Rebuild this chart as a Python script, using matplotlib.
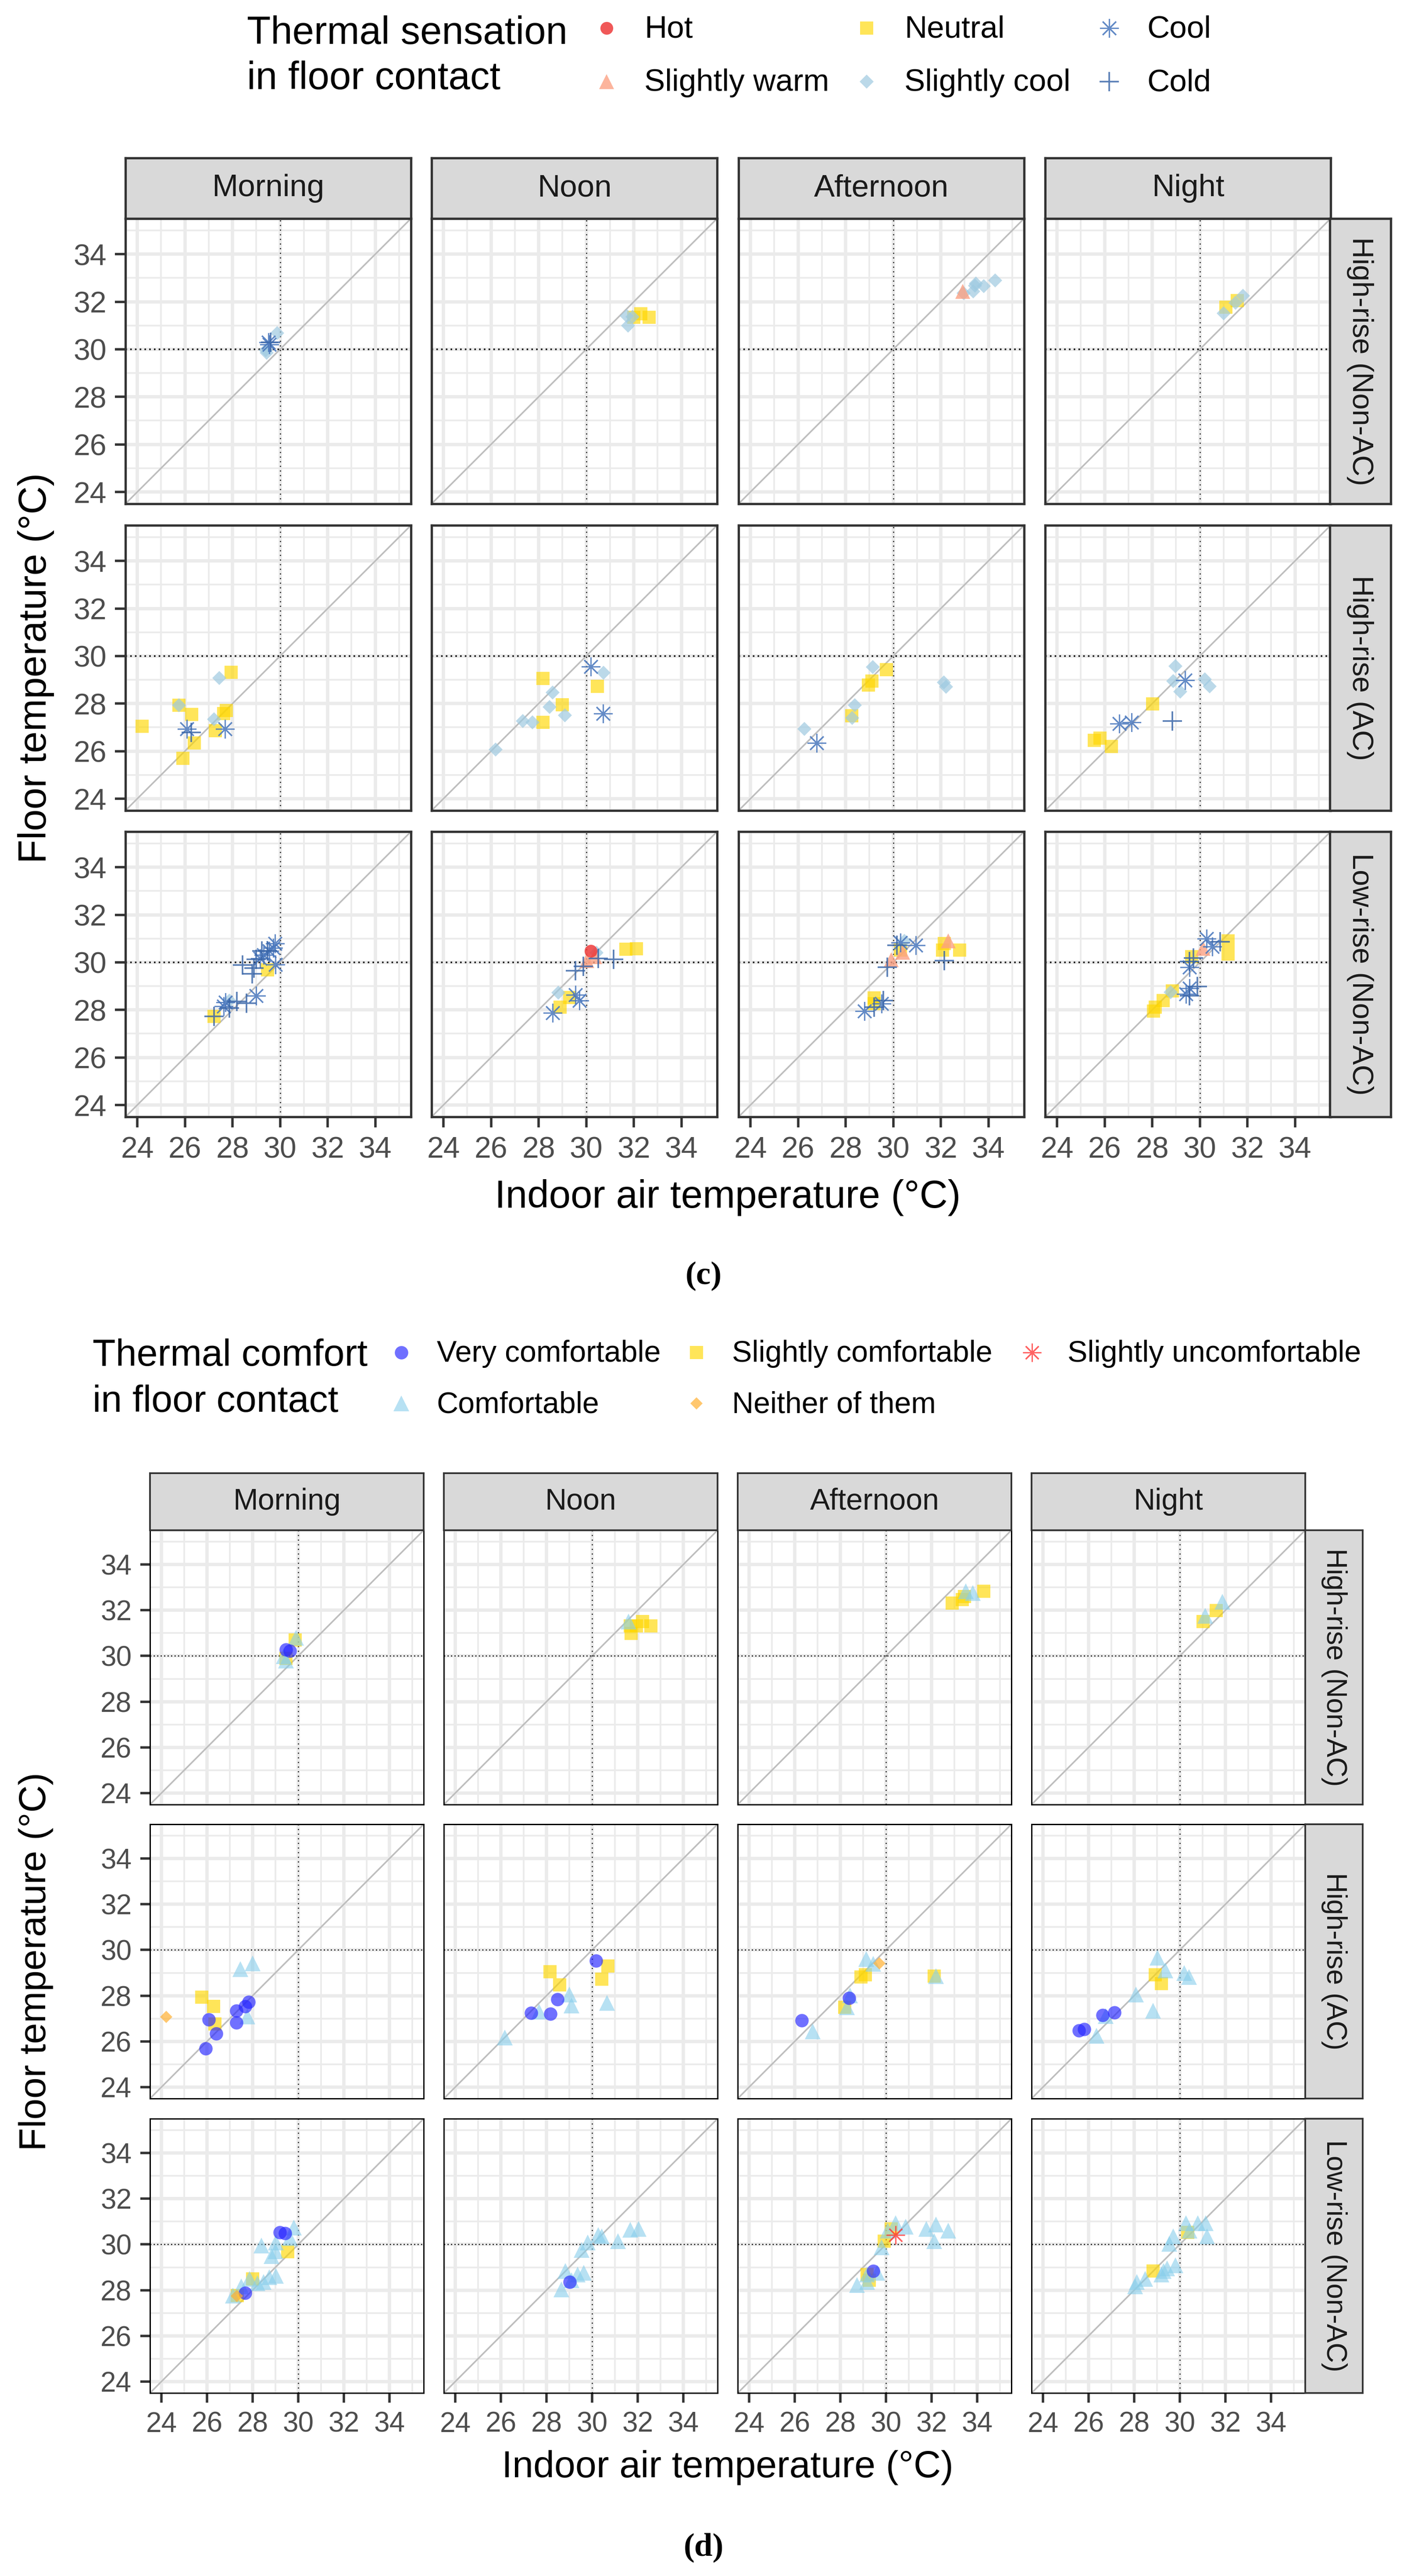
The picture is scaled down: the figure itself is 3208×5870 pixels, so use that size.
import matplotlib
matplotlib.use("Agg")
import matplotlib.pyplot as plt
from matplotlib.lines import Line2D

plt.rcParams['font.family'] = ['Liberation Sans', 'DejaVu Sans']

W, H = 3208, 5870

PERIODS = ['Morning', 'Noon', 'Afternoon', 'Night']
BUILDINGS = ['High-rise (Non-AC)', 'High-rise (AC)', 'Low-rise (Non-AC)']
TICKS = [24, 26, 28, 30, 32, 34]

# ---- (c) thermal sensation votes: (period, indoor air temp, floor temp, vote)
SENS_NAMES = {'H': 'Hot', 'SW': 'Slightly warm', 'N': 'Neutral',
              'SC': 'Slightly cool', 'C': 'Cool', 'CD': 'Cold'}

sens_high_nonac = [
    ('Morning', 29.87, 30.68, 'SC'), ('Morning', 29.44, 29.85, 'SC'), ('Morning', 29.40, 29.96, 'SC'),
    ('Morning', 29.50, 30.30, 'C'), ('Morning', 29.55, 30.20, 'C'), ('Morning', 29.60, 30.30, 'CD'),
    ('Noon', 31.71, 31.40, 'SC'), ('Noon', 31.76, 31.00, 'SC'), ('Noon', 31.95, 31.36, 'SC'),
    ('Noon', 32.30, 31.50, 'N'), ('Noon', 32.65, 31.35, 'N'), ('Noon', 32.00, 31.35, 'N'),
    ('Afternoon', 32.92, 32.44, 'SW'), ('Afternoon', 32.95, 32.36, 'SC'), ('Afternoon', 33.44, 32.68, 'SC'),
    ('Afternoon', 33.36, 32.44, 'SC'), ('Afternoon', 33.80, 32.65, 'SC'), ('Afternoon', 34.29, 32.89, 'SC'),
    ('Afternoon', 33.48, 32.76, 'SC'),
    ('Night', 31.10, 31.77, 'N'), ('Night', 31.58, 32.04, 'N'), ('Night', 31.00, 31.52, 'SC'),
    ('Night', 31.82, 32.25, 'SC'), ('Night', 31.50, 31.96, 'SC'),
]

sens_high_ac = [
    ('Morning', 24.20, 27.05, 'N'), ('Morning', 25.74, 27.93, 'N'), ('Morning', 25.74, 27.93, 'SC'),
    ('Morning', 26.28, 27.55, 'N'), ('Morning', 26.08, 26.94, 'C'), ('Morning', 26.27, 26.78, 'CD'),
    ('Morning', 26.40, 26.35, 'N'), ('Morning', 25.92, 25.69, 'N'), ('Morning', 27.44, 29.08, 'SC'),
    ('Morning', 27.95, 29.32, 'N'), ('Morning', 27.23, 27.34, 'SC'), ('Morning', 27.74, 27.71, 'N'),
    ('Morning', 27.63, 27.58, 'N'), ('Morning', 27.28, 26.86, 'N'), ('Morning', 27.68, 26.94, 'C'),
    ('Noon', 26.19, 26.06, 'SC'), ('Noon', 27.34, 27.26, 'SC'), ('Noon', 27.74, 27.21, 'SC'),
    ('Noon', 28.19, 27.21, 'N'), ('Noon', 28.19, 29.05, 'N'), ('Noon', 28.59, 28.46, 'SC'),
    ('Noon', 28.46, 27.85, 'SC'), ('Noon', 28.99, 27.95, 'N'), ('Noon', 29.10, 27.50, 'SC'),
    ('Noon', 30.19, 29.56, 'C'), ('Noon', 30.72, 29.29, 'SC'), ('Noon', 30.46, 28.73, 'N'),
    ('Noon', 30.70, 27.58, 'C'),
    ('Afternoon', 26.27, 26.94, 'SC'), ('Afternoon', 26.79, 26.35, 'C'), ('Afternoon', 28.39, 27.93, 'SC'),
    ('Afternoon', 28.26, 27.48, 'N'), ('Afternoon', 28.28, 27.39, 'SC'), ('Afternoon', 28.95, 28.78, 'N'),
    ('Afternoon', 29.11, 28.94, 'N'), ('Afternoon', 29.14, 29.53, 'SC'), ('Afternoon', 29.72, 29.42, 'N'),
    ('Afternoon', 32.12, 28.89, 'SC'), ('Afternoon', 32.22, 28.70, 'SC'),
    ('Night', 25.57, 26.46, 'N'), ('Night', 25.81, 26.54, 'N'), ('Night', 26.29, 26.19, 'N'),
    ('Night', 26.61, 27.15, 'C'), ('Night', 27.14, 27.21, 'C'), ('Night', 28.02, 27.98, 'N'),
    ('Night', 28.85, 27.26, 'CD'), ('Night', 28.98, 29.58, 'SC'), ('Night', 28.88, 28.94, 'SC'),
    ('Night', 29.17, 28.51, 'SC'), ('Night', 29.38, 28.99, 'C'), ('Night', 30.21, 29.02, 'SC'),
    ('Night', 30.41, 28.73, 'SC'),
]

sens_low_nonac = [
    ('Morning', 29.55, 30.48, 'C'), ('Morning', 29.71, 30.60, 'C'), ('Morning', 29.31, 30.32, 'C'),
    ('Morning', 29.79, 30.80, 'C'), ('Morning', 29.15, 30.16, 'C'), ('Morning', 27.70, 28.32, 'C'),
    ('Morning', 28.99, 28.60, 'C'), ('Morning', 27.63, 28.16, 'C'), ('Morning', 29.80, 29.90, 'C'),
    ('Morning', 29.23, 30.48, 'CD'), ('Morning', 28.83, 29.52, 'CD'), ('Morning', 28.43, 29.88, 'CD'),
    ('Morning', 29.00, 30.12, 'CD'), ('Morning', 29.47, 30.48, 'CD'), ('Morning', 28.19, 28.36, 'CD'),
    ('Morning', 28.59, 28.28, 'CD'), ('Morning', 27.87, 28.08, 'CD'), ('Morning', 27.23, 27.72, 'CD'),
    ('Morning', 28.90, 29.75, 'CD'), ('Morning', 29.47, 29.68, 'N'), ('Morning', 27.23, 27.72, 'N'),
    ('Morning', 27.87, 28.40, 'SC'),
    ('Noon', 30.19, 30.48, 'H'), ('Noon', 30.03, 30.08, 'SW'), ('Noon', 30.35, 30.24, 'SW'),
    ('Noon', 30.43, 30.40, 'SC'), ('Noon', 28.83, 28.72, 'SC'), ('Noon', 31.15, 30.12, 'CD'),
    ('Noon', 30.51, 30.16, 'CD'), ('Noon', 29.55, 29.64, 'CD'), ('Noon', 29.87, 29.84, 'CD'),
    ('Noon', 31.66, 30.56, 'N'), ('Noon', 32.10, 30.58, 'N'), ('Noon', 29.31, 28.52, 'N'),
    ('Noon', 28.91, 28.12, 'N'), ('Noon', 29.55, 28.64, 'C'), ('Noon', 28.59, 27.88, 'C'),
    ('Noon', 29.71, 28.40, 'C'),
    ('Afternoon', 29.91, 30.11, 'SW'), ('Afternoon', 30.39, 30.43, 'SW'), ('Afternoon', 32.31, 30.91, 'SW'),
    ('Afternoon', 30.47, 30.91, 'SC'), ('Afternoon', 30.95, 30.71, 'C'), ('Afternoon', 30.31, 30.83, 'C'),
    ('Afternoon', 28.79, 27.95, 'C'), ('Afternoon', 29.51, 28.27, 'C'), ('Afternoon', 30.31, 30.51, 'N'),
    ('Afternoon', 32.07, 30.51, 'N'), ('Afternoon', 32.79, 30.51, 'N'), ('Afternoon', 32.15, 30.79, 'N'),
    ('Afternoon', 29.19, 28.51, 'N'), ('Afternoon', 29.19, 28.27, 'N'), ('Afternoon', 32.15, 30.07, 'CD'),
    ('Afternoon', 29.75, 29.79, 'CD'), ('Afternoon', 30.15, 30.71, 'CD'), ('Afternoon', 29.59, 28.39, 'CD'),
    ('Afternoon', 29.19, 28.11, 'CD'),
    ('Night', 30.29, 30.99, 'C'), ('Night', 30.53, 30.67, 'C'), ('Night', 29.57, 29.79, 'C'),
    ('Night', 29.57, 28.91, 'C'), ('Night', 29.41, 28.67, 'C'), ('Night', 31.18, 30.91, 'N'),
    ('Night', 31.18, 30.35, 'N'), ('Night', 29.65, 30.24, 'N'), ('Night', 28.85, 28.79, 'N'),
    ('Night', 28.45, 28.39, 'N'), ('Night', 28.13, 28.11, 'N'), ('Night', 28.05, 27.95, 'N'),
    ('Night', 30.13, 30.59, 'SW'), ('Night', 28.77, 28.75, 'SC'), ('Night', 30.85, 30.87, 'CD'),
    ('Night', 29.57, 30.03, 'CD'), ('Night', 29.89, 28.99, 'CD'), ('Night', 29.73, 30.19, 'CD'),
    ('Night', 29.57, 28.59, 'CD'),
]

# ---- (d) thermal comfort votes
COMF_NAMES = {'VC': 'Very comfortable', 'CF': 'Comfortable', 'SLC': 'Slightly comfortable',
              'NE': 'Neither of them', 'SU': 'Slightly uncomfortable'}

comf_high_nonac = [
    ('Morning', 29.46, 30.28, 'VC'), ('Morning', 29.63, 30.22, 'VC'), ('Morning', 29.86, 30.70, 'SLC'),
    ('Morning', 29.46, 29.90, 'SLC'), ('Morning', 29.90, 30.79, 'CF'), ('Morning', 29.46, 29.80, 'CF'),
    ('Morning', 29.37, 29.99, 'CF'),
    ('Noon', 31.68, 31.32, 'SLC'), ('Noon', 32.21, 31.51, 'SLC'), ('Noon', 32.57, 31.32, 'SLC'),
    ('Noon', 31.71, 30.98, 'SLC'), ('Noon', 31.94, 31.32, 'SLC'), ('Noon', 31.59, 31.51, 'CF'),
    ('Afternoon', 32.90, 32.31, 'SLC'), ('Afternoon', 33.35, 32.46, 'SLC'), ('Afternoon', 33.44, 32.60, 'SLC'),
    ('Afternoon', 34.28, 32.84, 'SLC'), ('Afternoon', 33.50, 32.84, 'CF'), ('Afternoon', 33.80, 32.75, 'CF'),
    ('Night', 31.02, 31.51, 'SLC'), ('Night', 31.59, 31.99, 'SLC'), ('Night', 31.11, 31.76, 'CF'),
    ('Night', 31.86, 32.37, 'CF'),
]

comf_high_ac = [
    ('Morning', 24.21, 27.07, 'NE'), ('Morning', 25.76, 27.94, 'SLC'), ('Morning', 26.29, 27.54, 'SLC'),
    ('Morning', 26.34, 26.77, 'SLC'), ('Morning', 26.08, 26.96, 'VC'), ('Morning', 26.40, 26.35, 'VC'),
    ('Morning', 25.94, 25.68, 'VC'), ('Morning', 27.29, 27.34, 'VC'), ('Morning', 27.29, 26.82, 'VC'),
    ('Morning', 27.68, 27.53, 'VC'), ('Morning', 27.82, 27.72, 'VC'), ('Morning', 27.46, 29.16, 'CF'),
    ('Morning', 28.00, 29.42, 'CF'), ('Morning', 27.77, 27.10, 'CF'),
    ('Noon', 26.17, 26.16, 'CF'), ('Noon', 27.68, 27.30, 'CF'), ('Noon', 29.00, 28.06, 'CF'),
    ('Noon', 29.10, 27.58, 'CF'), ('Noon', 30.65, 27.68, 'CF'), ('Noon', 27.32, 27.24, 'VC'),
    ('Noon', 28.18, 27.20, 'VC'), ('Noon', 28.48, 27.83, 'VC'), ('Noon', 30.17, 29.52, 'VC'),
    ('Noon', 28.16, 29.04, 'SLC'), ('Noon', 28.57, 28.47, 'SLC'), ('Noon', 30.70, 29.29, 'SLC'),
    ('Noon', 30.43, 28.72, 'SLC'),
    ('Afternoon', 26.30, 26.92, 'VC'), ('Afternoon', 28.38, 27.90, 'VC'), ('Afternoon', 26.78, 26.44, 'CF'),
    ('Afternoon', 28.43, 28.02, 'CF'), ('Afternoon', 28.29, 27.49, 'CF'), ('Afternoon', 29.13, 29.61, 'CF'),
    ('Afternoon', 29.45, 29.39, 'CF'), ('Afternoon', 32.20, 28.85, 'CF'), ('Afternoon', 28.20, 27.49, 'SLC'),
    ('Afternoon', 28.91, 28.82, 'SLC'), ('Afternoon', 29.09, 28.91, 'SLC'), ('Afternoon', 32.11, 28.85, 'SLC'),
    ('Afternoon', 29.71, 29.42, 'NE'),
    ('Night', 25.58, 26.48, 'VC'), ('Night', 25.81, 26.54, 'VC'), ('Night', 26.61, 27.15, 'VC'),
    ('Night', 27.14, 27.26, 'VC'), ('Night', 26.34, 26.25, 'CF'), ('Night', 26.75, 27.11, 'CF'),
    ('Night', 28.07, 28.06, 'CF'), ('Night', 29.01, 29.67, 'CF'), ('Night', 29.37, 29.10, 'CF'),
    ('Night', 28.83, 27.34, 'CF'), ('Night', 30.20, 29.00, 'CF'), ('Night', 30.40, 28.82, 'CF'),
    ('Night', 28.92, 28.91, 'SLC'), ('Night', 29.19, 28.53, 'SLC'),
]

comf_low_nonac = [
    ('Morning', 29.19, 30.52, 'VC'), ('Morning', 29.42, 30.48, 'VC'), ('Morning', 27.68, 27.87, 'VC'),
    ('Morning', 29.81, 30.74, 'CF'), ('Morning', 28.39, 29.95, 'CF'), ('Morning', 29.01, 30.08, 'CF'),
    ('Morning', 28.83, 29.49, 'CF'), ('Morning', 29.63, 30.28, 'CF'), ('Morning', 27.86, 28.50, 'CF'),
    ('Morning', 29.01, 28.63, 'CF'), ('Morning', 28.48, 28.36, 'CF'), ('Morning', 27.50, 28.17, 'CF'),
    ('Morning', 27.14, 27.77, 'CF'), ('Morning', 28.21, 28.30, 'CF'), ('Morning', 28.74, 28.56, 'CF'),
    ('Morning', 29.00, 29.70, 'CF'), ('Morning', 29.54, 29.69, 'SLC'), ('Morning', 27.32, 27.77, 'SLC'),
    ('Morning', 28.00, 28.50, 'SLC'), ('Morning', 27.30, 27.75, 'NE'),
    ('Noon', 30.26, 30.41, 'CF'), ('Noon', 30.43, 30.35, 'CF'), ('Noon', 29.81, 30.08, 'CF'),
    ('Noon', 29.54, 29.75, 'CF'), ('Noon', 31.14, 30.15, 'CF'), ('Noon', 31.68, 30.65, 'CF'),
    ('Noon', 32.03, 30.68, 'CF'), ('Noon', 28.83, 28.83, 'CF'), ('Noon', 29.37, 28.69, 'CF'),
    ('Noon', 29.63, 28.76, 'CF'), ('Noon', 28.66, 28.03, 'CF'), ('Noon', 29.10, 28.43, 'CF'),
    ('Noon', 29.01, 28.36, 'VC'),
    ('Afternoon', 30.42, 30.94, 'CF'), ('Afternoon', 30.87, 30.78, 'CF'), ('Afternoon', 30.07, 30.61, 'CF'),
    ('Afternoon', 29.80, 29.88, 'CF'), ('Afternoon', 31.76, 30.68, 'CF'), ('Afternoon', 32.20, 30.87, 'CF'),
    ('Afternoon', 32.74, 30.61, 'CF'), ('Afternoon', 32.11, 30.15, 'CF'), ('Afternoon', 29.18, 28.69, 'CF'),
    ('Afternoon', 29.62, 28.76, 'CF'), ('Afternoon', 28.73, 28.23, 'CF'), ('Afternoon', 29.18, 28.36, 'CF'),
    ('Afternoon', 30.24, 30.68, 'SLC'), ('Afternoon', 29.93, 30.15, 'SLC'), ('Afternoon', 29.18, 28.69, 'SLC'),
    ('Afternoon', 29.27, 28.43, 'SLC'), ('Afternoon', 30.42, 30.41, 'SU'), ('Afternoon', 29.45, 28.83, 'VC'),
    ('Night', 30.26, 30.94, 'CF'), ('Night', 30.79, 30.94, 'CF'), ('Night', 31.14, 30.94, 'CF'),
    ('Night', 31.19, 30.35, 'CF'), ('Night', 29.54, 30.02, 'CF'), ('Night', 29.72, 30.35, 'CF'),
    ('Night', 29.81, 29.09, 'CF'), ('Night', 29.45, 28.96, 'CF'), ('Night', 29.19, 28.69, 'CF'),
    ('Night', 29.28, 28.83, 'CF'), ('Night', 28.12, 28.36, 'CF'), ('Night', 28.48, 28.50, 'CF'),
    ('Night', 28.03, 28.17, 'CF'), ('Night', 30.43, 30.61, 'CF'), ('Night', 28.83, 28.83, 'SLC'),
    ('Night', 30.34, 30.52, 'SLC'),
]

# marker styles (ggplot shapes 16, 17, 15, 18, 8, 3)
SENS_STYLE = {
    'H':  dict(marker='o', ms=21, color='#EE3B3B', alpha=0.85, mew=0),
    'SW': dict(marker='^', ms=25, color='#FCA183', alpha=0.8, mew=0),
    'N':  dict(marker='s', ms=22, color='#FFD700', alpha=0.65, mew=0),
    'SC': dict(marker='D', ms=16, color='#9ECAE1', alpha=0.7, mew=0),
    'C':  dict(marker=(8, 2, 0), ms=31, color='#4A78BE', alpha=0.85, mew=2.2),
    'CD': dict(marker='+', ms=32, color='#3A66A8', alpha=0.85, mew=2.6),
}
SENS_ORDER = ['H', 'SW', 'N', 'SC', 'C', 'CD']
SENS_DRAW = ['N', 'SC', 'SW', 'H', 'C', 'CD']

COMF_STYLE = {
    'VC':  dict(marker='o', ms=22, color='#2424FF', alpha=0.65, mew=0),
    'CF':  dict(marker='^', ms=26, color='#87CEEB', alpha=0.6, mew=0),
    'SLC': dict(marker='s', ms=21, color='#FFD700', alpha=0.65, mew=0),
    'NE':  dict(marker='D', ms=14, color='#FFB030', alpha=0.7, mew=0),
    'SU':  dict(marker=(8, 2, 0), ms=30, color='#FF3030', alpha=0.75, mew=2.2),
}
COMF_ORDER = ['VC', 'CF', 'SLC', 'NE', 'SU']
COMF_DRAW = ['SLC', 'CF', 'VC', 'NE', 'SU']

fig = plt.figure(figsize=(W / 100, H / 100), dpi=100)


def px_axes(x0, y0, w, h):
    return fig.add_axes([x0 / W, 1 - (y0 + h) / H, w / W, h / H])


def ftext(x, y, s, **kw):
    fig.text(x / W, 1 - y / H, s, ha=kw.pop('ha', 'center'), va=kw.pop('va', 'center'), **kw)


def key(x, y, style):
    st = dict(style)
    c = st.pop('color')
    a = st.pop('alpha')
    fig.add_artist(Line2D([x / W], [1 - y / H], transform=fig.transFigure, ls='none',
                          color=c, mfc=c, mec=c, alpha=a, **st))


def draw_block(rows, styles, draw_order, geo):
    for r, rows_data in enumerate(rows):
        for c, period in enumerate(PERIODS):
            ax = px_axes(geo['cols'][c], geo['rows'][r], geo['pw'], geo['ph'])
            ax.set_xlim(23.5, 35.5)
            ax.set_ylim(23.5, 35.5)
            ax.set_xticks(TICKS)
            ax.set_yticks(TICKS)
            ax.set_xticks(range(25, 36, 2), minor=True)
            ax.set_yticks(range(25, 36, 2), minor=True)
            ax.set_axisbelow(True)
            ax.grid(which='major', color='#EBEBEB', lw=5.5)
            ax.grid(which='minor', color='#EBEBEB', lw=2.8)
            ax.tick_params(which='minor', length=0)
            ax.tick_params(which='major', length=geo['tlen'], width=4, color='#333333',
                           labelsize=geo['tsize'], labelcolor='#4D4D4D', pad=geo['tpad'])
            ax.tick_params(left=(c == 0), labelleft=(c == 0),
                           bottom=(r == 2), labelbottom=(r == 2))
            for sp in ax.spines.values():
                sp.set_color(geo['border'])
                sp.set_linewidth(geo['blw'])
                sp.set_zorder(10)
            ax.axline((24, 24), slope=1, color='#BEBEBE', lw=2.6, zorder=1.5)
            ax.axvline(30, color='#222222', ls=(0, (1, 3)), lw=1.9, zorder=1.6)
            ax.axhline(30, color='#111111', ls=(0, (1, 2)), lw=geo['hdot'], zorder=1.6)
            for cat in draw_order:
                pts = [(x, y) for (p, x, y, v) in rows_data if p == period and v == cat]
                if not pts:
                    continue
                st = dict(styles[cat])
                col = st.pop('color')
                ax.plot([p[0] for p in pts], [p[1] for p in pts], ls='none', mfc=col, mec=col,
                        zorder=3, **st)
            # top strip
            if r == 0:
                sx = px_axes(geo['cols'][c], geo['strip_top'], geo['pw'],
                             geo['rows'][0] - geo['strip_top'])
                sx.set_facecolor('#D9D9D9')
                sx.set_xticks([])
                sx.set_yticks([])
                for sp in sx.spines.values():
                    sp.set_color('#333333')
                    sp.set_linewidth(geo['slw'])
                sx.text(0.5, 0.5, period, ha='center', va='center', transform=sx.transAxes,
                        fontsize=geo['ssize'], color='#1A1A1A')
        # right strip
        rx = px_axes(geo['rstrip'][0], geo['rows'][r], geo['rstrip'][1], geo['ph'])
        rx.set_facecolor('#D9D9D9')
        rx.set_xticks([])
        rx.set_yticks([])
        for sp in rx.spines.values():
            sp.set_color('#333333')
            sp.set_linewidth(geo['slw'])
        rx.text(0.5, 0.5, BUILDINGS[r], ha='center', va='center', rotation=-90,
                transform=rx.transAxes, fontsize=geo['rsize'], color='#1A1A1A')


geo_c = dict(cols=[286, 984, 1684, 2383], rows=[498, 1197, 1895], pw=651, ph=650,
             strip_top=360, rstrip=(3032, 139), border='#333333', blw=3.8, slw=3.8,
             tlen=17, tpad=14, tsize=49, ssize=51, rsize=48, hdot=2.6)
geo_d = dict(cols=[342, 1012, 1682, 2352], rows=[3487, 4157, 4828], pw=624, ph=625,
             strip_top=3357, rstrip=(2976, 131), border='#000000', blw=2.2, slw=2.8,
             tlen=16, tpad=14, tsize=46, ssize=49, rsize=46, hdot=1.9)

draw_block([sens_high_nonac, sens_high_ac, sens_low_nonac], SENS_STYLE, SENS_DRAW, geo_c)
draw_block([comf_high_nonac, comf_high_ac, comf_low_nonac], COMF_STYLE, COMF_DRAW, geo_d)

# axis titles and captions
ftext(1659, 2729, 'Indoor air temperature (\u00b0C)', fontsize=64)
ftext(82, 1522, 'Floor temperature (\u00b0C)', fontsize=64, rotation=90)
ftext(1604, 2908, '(c)', fontsize=54, family='Liberation Serif', fontweight='bold')
ftext(1659, 5623, 'Indoor air temperature (\u00b0C)', fontsize=62)
ftext(82, 4470, 'Floor temperature (\u00b0C)', fontsize=62, rotation=90)
ftext(1604, 5805, '(d)', fontsize=54, family='Liberation Serif', fontweight='bold')

# legend (c)
ftext(563, 77, 'Thermal sensation', fontsize=64, ha='left')
ftext(563, 180, 'in floor contact', fontsize=64, ha='left')
leg_c = [(1383, 64), (1383, 186), (1976, 64), (1976, 186), (2529, 64), (2529, 186)]
for cat, (kx, ky) in zip(SENS_ORDER, leg_c):
    key(kx, ky, SENS_STYLE[cat])
    ftext(kx + 86, ky + 3, SENS_NAMES[cat], fontsize=51, ha='left')

# legend (d)
ftext(211, 3090, 'Thermal comfort', fontsize=62, ha='left')
ftext(211, 3195, 'in floor contact', fontsize=62, ha='left')
leg_d = [(915, 3082), (915, 3198), (1588, 3082), (1588, 3198), (2353, 3082)]
for cat, (kx, ky) in zip(COMF_ORDER, leg_d):
    key(kx, ky, COMF_STYLE[cat])
    ftext(kx + 81, ky + 3, COMF_NAMES[cat], fontsize=49, ha='left')

fig.savefig('out.png', dpi=100, facecolor='white')
